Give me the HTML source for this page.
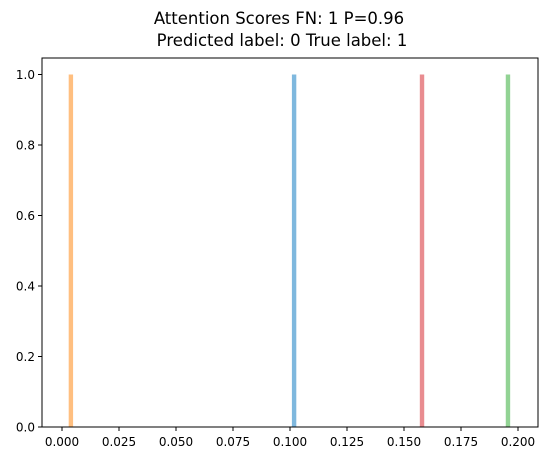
<!DOCTYPE html>
<html><head><meta charset="utf-8"><style>
body{margin:0;background:#fff;font-family:"Liberation Sans","DejaVu Sans",sans-serif;}
svg text{font-family:"DejaVu Sans","Liberation Sans",sans-serif;}
</style></head><body>
<svg width="547" height="461" xmlns="http://www.w3.org/2000/svg">
<text x="279" y="24" text-anchor="middle" font-size="16.5">Attention Scores FN: 1 P=0.96</text>
<text x="282" y="46" text-anchor="middle" font-size="16.5"> Predicted label: 0 True label: 1</text>
<g id="marks"></g>
<rect x="42" y="58" width="496" height="369" fill="none" stroke="#000" stroke-width="1"/>
<g id="axes" font-size="12"></g>
</svg>
<script>
const scores=[0.0039,0.1018,0.1579,0.1956];
const heights=[1,1,1,1];
const colors=['#ffbf80','#7fb8de','#e98c90','#92d394'];
const xTicks=[0,0.025,0.05,0.075,0.1,0.125,0.15,0.175,0.2];
const xLabels=['0.000','0.025','0.050','0.075','0.100','0.125','0.150','0.175','0.200'];
const yTicks=[0,0.2,0.4,0.6,0.8,1.0];
const yLabels=['0.0','0.2','0.4','0.6','0.8','1.0'];
const X=v=>62+v*2280, Y=v=>427-v*352.5;
const NS='http://www.w3.org/2000/svg';
const m=document.getElementById('marks'), a=document.getElementById('axes');
function mk(t,at,p){const e=document.createElementNS(NS,t);for(const k in at)e.setAttribute(k,at[k]);p.appendChild(e);return e;}
scores.forEach((s,i)=>{const r=mk('rect',{x:X(s)-2.2,y:Y(heights[i]),width:4.4,height:Y(0)-Y(heights[i]),fill:colors[i]},m);

});
xTicks.forEach((v,i)=>{mk('line',{x1:X(v),x2:X(v),y1:427,y2:431,stroke:'#000'},a);
const t=mk('text',{x:X(v),y:446,'text-anchor':'middle'},a);t.textContent=xLabels[i];

});
yTicks.forEach((v,i)=>{mk('line',{x1:38,x2:42,y1:Y(v),y2:Y(v),stroke:'#000'},a);
const t=mk('text',{x:35,y:Y(v)+4.5,'text-anchor':'end'},a);t.textContent=yLabels[i];

});
</script>
</body></html>
